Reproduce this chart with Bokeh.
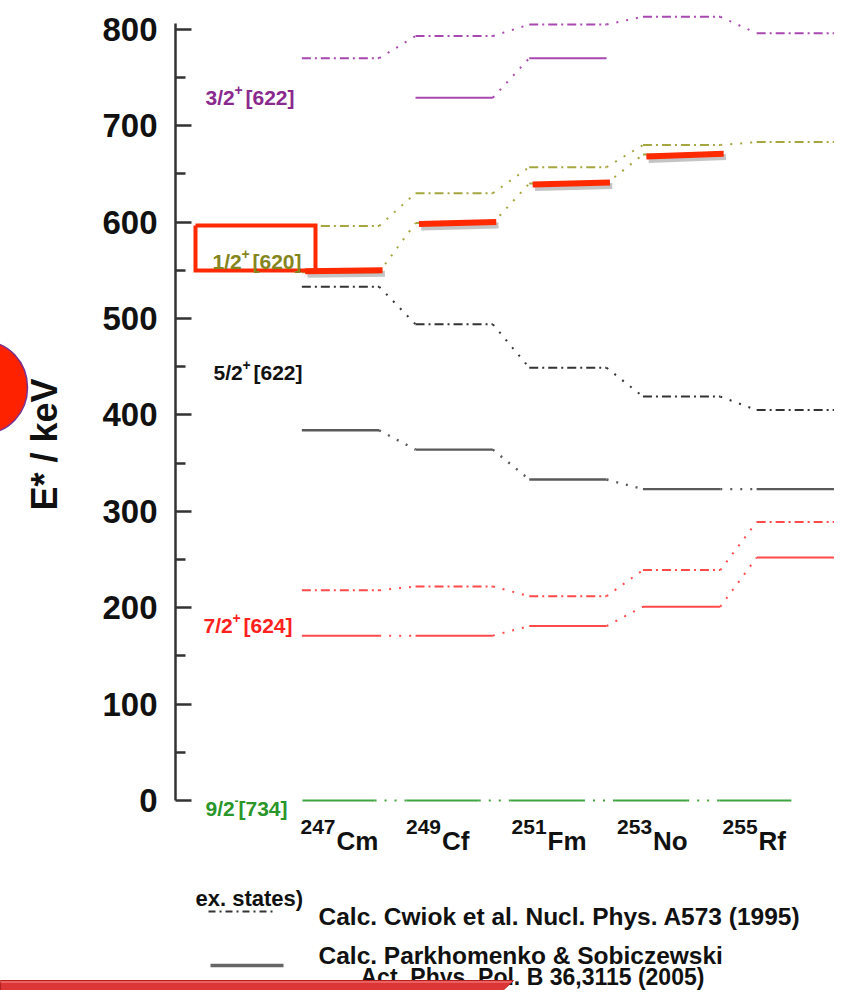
from math import pi
from bokeh.plotting import figure
from bokeh.models import FixedTicker
from bokeh.core.properties import value
from bokeh.embed import file_html
from bokeh.resources import INLINE

# ---------------- data ----------------
isotope_mass = ["247", "249", "251", "253", "255"]
isotope_name = ["Cm", "Cf", "Fm", "No", "Rf"]

# Calc. Cwiok et al. (dash-dot) and Parkhomenko & Sobiczewski (solid), keV
cwiok_3_2 = [770, 793, 805, 813, 796]
park_3_2 = [None, 729, 770, None, None]
cwiok_1_2 = [596, 630, 657, 680, 683]
park_1_2 = [548, 599, 640, 670, None]
cwiok_5_2 = [533, 494, 449, 419, 405]
park_5_2 = [384, 364, 333, 323, 323]
cwiok_7_2 = [218, 222, 212, 239, 289]
park_7_2 = [171, 171, 181, 201, 252]
ground_9_2 = [0, 0, 0, 0, 0]
# experimental 1/2+[620] (highlighted bars), value at left / right end
exp_1_2_left = [549, 598, 639, 668]
exp_1_2_right = [550, 600, 641, 671]

y_ticks = [0, 100, 200, 300, 400, 500, 600, 700, 800]
y_minor_ticks = [50, 150, 250, 350, 450, 550, 650, 750]

label_main = ["3/2", "1/2", "5/2", "7/2", "9/2"]
label_sign = ["+", "+", "+", "+", "-"]
label_conf = ["[622]", "[620]", "[622]", "[624]", "[734]"]

legend_lines = ["Calc. Cwiok et al. Nucl. Phys. A573 (1995)",
                "Calc. Parkhomenko & Sobiczewski",
                "Act. Phys. Pol. B 36,3115 (2005)"]

# ---------------- layout ----------------
W, H = 851, 990
COL0 = 340.0      # px of first isotope column centre
COLW = 113.7      # px per column
ZERO = 800.0      # px of 0 keV
KPX = 0.964       # px per keV
FL = 175          # frame left (axis position)
HALF = 0.34


def X(px):
    return (px - COL0) / COLW


def Y(py):
    return (ZERO - py) / KPX


FONT = value("Liberation Sans")

p = figure(width=W, height=H, x_range=(X(FL), X(W)), y_range=(Y(H), Y(0)),
           toolbar_location=None, output_backend="svg",
           x_axis_location=None, y_axis_location="left",
           min_border_left=FL, min_border_right=0, min_border_top=0, min_border_bottom=0)
p.outline_line_color = None
p.grid.grid_line_color = None
p.background_fill_color = "white"

ax = p.yaxis[0]
ax.ticker = FixedTicker(ticks=y_ticks, minor_ticks=y_minor_ticks)
ax.bounds = (0, 806)
ax.major_tick_in = 16
ax.major_tick_out = 0
ax.minor_tick_in = 10
ax.minor_tick_out = 0
ax.axis_line_width = 2.5
ax.axis_line_color = "#333333"
ax.major_tick_line_width = 2.5
ax.major_tick_line_color = "#333333"
ax.minor_tick_line_width = 2.5
ax.minor_tick_line_color = "#333333"
ax.major_label_standoff = 18
ax.major_label_text_font = "Liberation Sans"
ax.major_label_text_font_style = "bold"
ax.major_label_text_font_size = "33px"
ax.major_label_text_color = "#111111"

DASHDOT = "9 4 2 4"
DOTS = "2 8"


def draw_levels(vals, color, dash, width=2.0, xs=None, half=HALF):
    if xs is None:
        xs = list(range(len(vals)))
    x0, x1, yy = [], [], []
    for i, v in enumerate(vals):
        if v is None:
            continue
        x0.append(xs[i] - half)
        x1.append(xs[i] + half)
        yy.append(v)
    p.segment(x0=x0, y0=yy, x1=x1, y1=yy, line_color=color, line_width=width,
              line_dash=dash)
    c0, c1, d0, d1 = [], [], [], []
    for i in range(len(vals) - 1):
        if vals[i] is None or vals[i + 1] is None:
            continue
        c0.append(xs[i] + half)
        d0.append(vals[i])
        c1.append(xs[i + 1] - half)
        d1.append(vals[i + 1])
    if c0:
        p.segment(x0=c0, y0=d0, x1=c1, y1=d1, line_color=color, line_width=width,
                  line_dash=DOTS)


PURPLE, PURPLE_T = "#a848b0", "#8a2a8e"
OLIVE, OLIVE_T = "#a6a640", "#85851e"
BLACK, GRAY = "#333333", "#5a5a5a"
RED, RED_T = "#ff4a4a", "#ff2020"
GREEN, GREEN_T = "#3fa43f", "#2a962a"

draw_levels(cwiok_3_2, PURPLE, DASHDOT)
draw_levels(park_3_2, PURPLE, "solid")
draw_levels(cwiok_1_2, OLIVE, DASHDOT)
draw_levels(park_1_2, OLIVE, "solid")
draw_levels(cwiok_5_2, BLACK, DASHDOT)
draw_levels(park_5_2, GRAY, "solid", width=2.4)
draw_levels(cwiok_7_2, RED, DASHDOT)
draw_levels(park_7_2, RED, "solid")
# ground state row follows the isotope-label spacing
g_xs = [X(338) + i * 0.9165 for i in range(5)]
draw_levels(ground_9_2, GREEN, "solid", xs=g_xs, half=0.317)

# experimental highlighted bars with soft shadow
SH = 0.03
ex0 = [i - HALF + SH for i in range(len(exp_1_2_left))]
ex1 = [i + HALF + SH for i in range(len(exp_1_2_left))]
p.segment(x0=[x + 0.02 for x in ex0], y0=[v - 3.5 for v in exp_1_2_left],
          x1=[x + 0.02 for x in ex1], y1=[v - 3.5 for v in exp_1_2_right],
          line_color="#555555", line_alpha=0.35, line_width=6)
p.segment(x0=ex0, y0=exp_1_2_left, x1=ex1, y1=exp_1_2_right,
          line_color="#ff2a00", line_width=6)

# red box around the 1/2+ label
bx0, bx1, by0, by1 = X(195), X(315), Y(225), Y(270)
p.line(x=[bx0, bx1, bx1, bx0, bx0], y=[by0, by0, by1, by1, by0],
       line_color="#ff2a00", line_width=4, line_join="miter")


def txt(x, y, s, size, color, align="left", baseline="alphabetic", angle=0.0,
        x_offset=0, level="glyph"):
    p.text(x=[x], y=[y], text=[s], text_font=FONT, text_font_style="bold",
           text_font_size=value(size), text_color=color, text_align=align,
           text_baseline=baseline, angle=angle, x_offset=x_offset, level=level)


# state labels
lab_pos = [(205, 97), (212, 261), (213, 372), (203, 625), (205, 808)]
lab_col = [PURPLE_T, OLIVE_T, "#111111", RED_T, GREEN_T]
for k in range(5):
    cx, cy = lab_pos[k]
    txt(X(cx), Y(cy), label_main[k], "21px", lab_col[k])
    if label_sign[k] == "+":
        txt(X(cx), Y(cy - 8), label_sign[k], "14px", lab_col[k], x_offset=29)
        txt(X(cx), Y(cy), label_conf[k], "21px", lab_col[k], x_offset=40)
    else:
        txt(X(cx), Y(cy - 8), label_sign[k], "12px", lab_col[k], x_offset=29)
        txt(X(cx), Y(cy), label_conf[k], "21px", lab_col[k], x_offset=33)

# isotope labels
for i in range(5):
    lx = X(300) + i * 0.928
    txt(lx, Y(826), isotope_mass[i], "21px", "#111111")
    txt(lx, Y(840), isotope_name[i], "26px", "#111111", x_offset=36)

# y axis title
txt(X(44), Y(444), "E* / keV", "36px", "#111111", align="center", baseline="middle",
    angle=pi / 2, level="overlay")

# legend
txt(X(195), Y(898), "ex. states)", "22px", "#111111")
p.segment(x0=[X(208)], y0=[Y(911)], x1=[X(273)], y1=[Y(911)], line_color=BLACK,
          line_width=2, line_dash="7 4 2 4")
p.segment(x0=[X(210)], y0=[Y(965)], x1=[X(283)], y1=[Y(965)], line_color="#666666",
          line_width=3.5)
txt(X(318), Y(916), legend_lines[0], "24.5px", "#111111")
txt(X(318), Y(955), legend_lines[1], "24.5px", "#111111")
txt(X(360), Y(976), legend_lines[2], "23px", "#111111")

# decorations from the slide
p.ellipse(x=[X(-16)], y=[Y(387)], width=86, height=92, width_units="screen",
          height_units="screen", fill_color="#ff2200", line_color="#7a3090",
          line_width=1.5, level="overlay")
p.patch(x=[X(0), X(513), X(497), X(0)], y=[Y(980), Y(980), Y(995), Y(995)],
        fill_color="#dc3535", line_color="#b52020", line_width=1, level="overlay")
p.segment(x0=[X(0)], y0=[Y(981.5)], x1=[X(511)], y1=[Y(981.5)], line_color="#f07070",
          line_width=1.5, level="overlay")

open("out.html", "w").write(file_html(p, INLINE))
